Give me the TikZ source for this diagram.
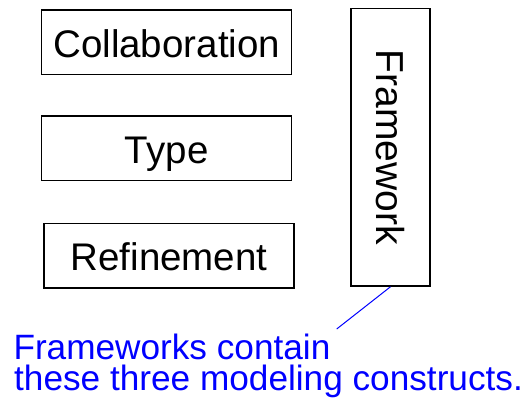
\documentclass[tikz,border=0pt]{standalone}
\usepackage{fontspec}
\setmainfont{Liberation Sans}
\begin{document}
\begin{tikzpicture}[x=1pt,y=-1pt,
  box/.style={draw=black,line width=1.5pt,rectangle,inner sep=0pt,
    minimum width=250pt,minimum height=64.5pt,
    text height=30pt,text depth=0pt,font=\fontsize{38.5}{38.5}\selectfont},
  note/.style={text=blue,inner sep=0pt,align=left,
    font=\fontsize{35.2}{31}\selectfont}]
  \useasboundingbox (0,0) rectangle (528,402);
  \node[box] (collab) at (166.7,42.3) {Collaboration};
  \node[box] (type) at (166.7,148) {Type};
  \node[box] (refine) at (169,255.5) {Refinement};
  \node[box,rotate=-90,minimum width=277.6pt,minimum height=79pt,
        text height=29pt,font=\fontsize{39}{39}\selectfont] (fw) at (390.5,147.2) {Framework};
  % base anchor sits on the last line's baseline
  \node[note,anchor=base west] (note) at (14,390.6)
    {\hspace*{-0.7pt}Frameworks contain\\these three modeling constructs.};
  \coordinate (tip) at (336.7,329);
  \draw[blue,line width=1pt] (fw.east) -- (tip);
\end{tikzpicture}
\end{document}
